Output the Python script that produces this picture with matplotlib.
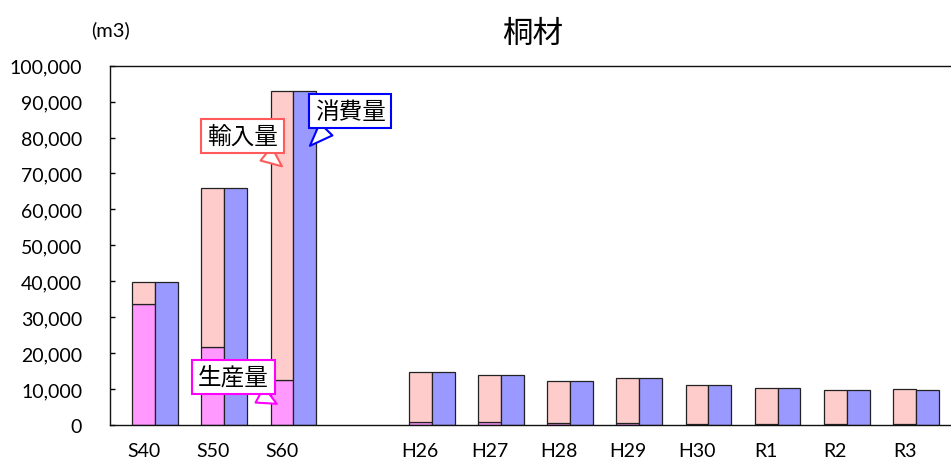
import numpy as np
import matplotlib
matplotlib.use('Agg')
import matplotlib.pyplot as plt
from matplotlib.ticker import FuncFormatter

plt.rcParams['font.family'] = ['Lato', 'Noto Sans CJK JP', 'DejaVu Sans']

# data (m3)
labels = ['S40', 'S50', 'S60', 'H26', 'H27', 'H28', 'H29', 'H30', 'R1', 'R2', 'R3']
production = [33800, 21600, 12500, 750, 700, 550, 500, 400, 350, 300, 300]
supply_total = [39700, 65900, 93000, 14850, 14000, 12200, 13000, 11100, 10300, 9850, 10000]
consumption = [39700, 65900, 93000, 14850, 14000, 12200, 13000, 11100, 10300, 9850, 9700]
imports = [t - p for t, p in zip(supply_total, production)]

# one empty slot between the Showa years and the recent years
pos = np.array([0, 1, 2, 4, 5, 6, 7, 8, 9, 10, 11], dtype=float)
w = 0.33

fig = plt.figure(figsize=(9.51, 4.64), dpi=100)
ax = fig.add_axes([110 / 951, 38 / 464, 845 / 951, 359.3 / 464])

ax.bar(pos - w / 2, production, w, color='#FF99FF', edgecolor='#222222', linewidth=0.9)
ax.bar(pos - w / 2, imports, w, bottom=production, color='#FFCCCC',
       edgecolor='#222222', linewidth=0.9)
ax.bar(pos + w / 2, consumption, w, color='#9999FF', edgecolor='#222222', linewidth=0.9)

ax.set_xlim(-0.65, 11.564)
ax.set_ylim(0, 100000)
ax.set_yticks(np.arange(0, 100001, 10000))
ax.yaxis.set_major_formatter(FuncFormatter(lambda v, p: f'{int(v):,}'))
ax.tick_params(axis='y', direction='in', length=3.6, width=1, pad=20, labelsize=14)
ax.set_xticks(pos - w / 2)
ax.set_xticklabels(labels)
ax.tick_params(axis='x', length=0, pad=12, labelsize=14)
ax.spines['right'].set_visible(False)
for s in ['left', 'top', 'bottom']:
    ax.spines[s].set_color('#111111')
    ax.spines[s].set_linewidth(1.0)

ax.set_title('桐材', fontsize=22, pad=17)
fig.text(111 / 951, 1 - 30 / 464, '(m3)', fontsize=14.5, ha='center', va='center')

# callouts: text, colour, point, box centre, where the tail leaves the box
i60 = 2
callouts = [
    ('輸入量', '#FF5B5B', (pos[i60] - w / 2, 72000), (1.265, 80500), (0.72, 0.0)),
    ('消費量', '#0000FF', (pos[i60] + w / 2 + 0.075, 77700), (2.82, 87300), (0.25, 0.0)),
    ('生産量', '#FF00FF', (pos[i60] - w / 2 - 0.075, 5900), (1.135, 13400), (0.7, 0.0)),
]
for txt, col, xy, xytext, rp in callouts:
    ax.annotate(txt, xy=xy, xytext=xytext, ha='center', va='center', fontsize=17,
                family=['Noto Sans CJK JP', 'DejaVu Sans'],
                bbox=dict(boxstyle='square,pad=0.24', fc='white', ec=col, lw=1.5),
                arrowprops=dict(arrowstyle='wedge,tail_width=0.75', fc='white', ec=col,
                                lw=1.5, shrinkA=0, shrinkB=0, relpos=rp),
                zorder=5)

fig.savefig('out.png', dpi=100)
